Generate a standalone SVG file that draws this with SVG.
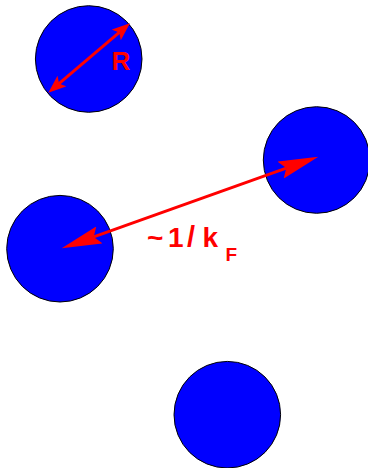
<svg xmlns="http://www.w3.org/2000/svg" width="368" height="468" viewBox="0 0 368 468">
<style>
.ball{fill:#0000ff;stroke:#000;stroke-width:1}
.arr{stroke:#ff0000;stroke-width:3;fill:none}
.lbl{fill:#ff0000;font-family:"Liberation Sans",Arial,sans-serif;font-weight:bold}
</style>
<defs>
<marker id="hs" markerUnits="userSpaceOnUse" viewBox="0 0 18 14" markerWidth="18" markerHeight="14" refX="4" refY="7" orient="auto-start-reverse">
<path d="M0,0 L18,7 L0,14 L4,7 z" fill="#ff0000"/>
</marker>
<marker id="hb" markerUnits="userSpaceOnUse" viewBox="0 0 40 18" markerWidth="40" markerHeight="18" refX="6" refY="9" orient="auto-start-reverse">
<path d="M0,0 L40,9 L0,18 L6,9 z" fill="#ff0000"/>
</marker>
</defs>
<g id="ball-top"><circle class="ball" cx="88.7" cy="59" r="53.3"/></g>
<g id="ball-right"><circle class="ball" cx="316.6" cy="160" r="53.3"/></g>
<g id="ball-left"><circle class="ball" cx="60" cy="248.7" r="53.3"/></g>
<g id="ball-bottom"><circle class="ball" cx="227.3" cy="414.7" r="53.3"/></g>
<g id="connectors">
<line class="arr" x1="59" y1="83.6" x2="119.3" y2="32.4" marker-start="url(#hs)" marker-end="url(#hs)"/>
<line class="arr" x1="93.7" y1="236.9" x2="286.3" y2="168.1" marker-start="url(#hb)" marker-end="url(#hb)"/>
</g>
<g id="labels">
<text class="lbl" x="111.5" y="69.5" font-size="26">R</text>
<text class="lbl" font-size="28" y="247"><tspan x="147">~</tspan><tspan x="168">1</tspan><tspan x="187" font-size="29">/</tspan><tspan x="202.5" font-size="28">k</tspan><tspan x="225.5" y="261" font-size="19">F</tspan></text>
</g>
</svg>
